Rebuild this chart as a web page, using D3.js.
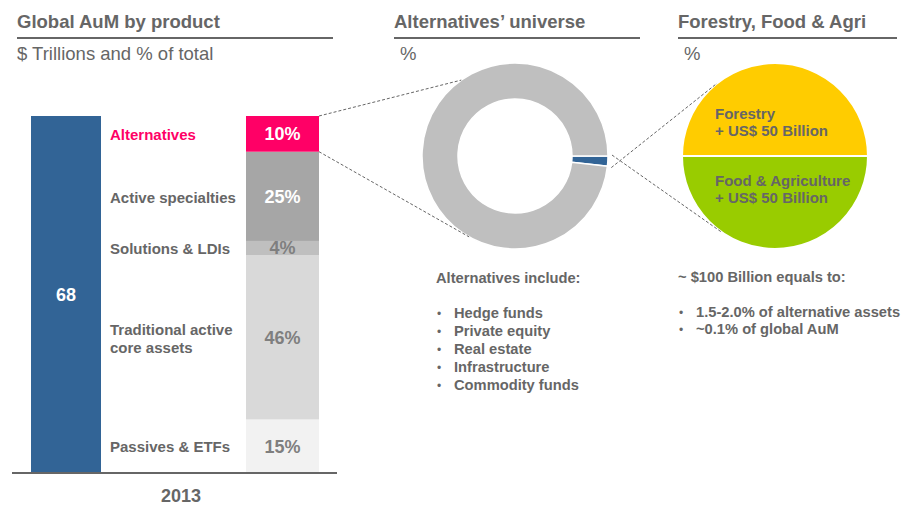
<!DOCTYPE html>
<html>
<head>
<meta charset="utf-8">
<script src="https://cdn.jsdelivr.net/npm/d3@7"></script>
<style>
  body { margin: 0; background: #fff; }
  svg text { font-family: "Liberation Sans", Arial, sans-serif; }
</style>
</head>
<body>
<svg id="chart" width="912" height="505"></svg>
<script>
// data, stacked from the bottom of the bar up
var productNames  = ["Passives & ETFs", "Traditional active\ncore assets", "Solutions & LDIs", "Active specialties", "Alternatives"];
var productShares = [15, 46, 4, 25, 10];
var productColors = ["#f2f2f2", "#d9d9d9", "#bfbfbf", "#a6a6a6", "#ff0066"];
var shareTextColors = ["#7f7f7f", "#7f7f7f", "#7f7f7f", "#ffffff", "#ffffff"];
var totalYear = "2013";
var totalAuM = 68;

var altNames  = ["Forestry, Food & Agri", "Other alternatives"];
var altShares = [1.75, 98.25];
var altColors = ["#326496", "#bfbfbf"];

var agriNames  = ["Forestry", "Food & Agriculture"];
var agriValues = [50, 50];
var agriColors = ["#ffcc00", "#99cc00"];

var altIncludes = ["Hedge funds", "Private equity", "Real estate", "Infrastructure", "Commodity funds"];
var equalsTo = ["1.5-2.0% of alternative assets", "~0.1% of global AuM"];

var grey = "#666666";
var svg = d3.select("#chart");

// section headers
var headers = [
    {title: "Global AuM by product", x: 17, x2: 333, sub: "$ Trillions and % of total"},
    {title: "Alternatives\u2019 universe", x: 394, x2: 640, sub: "%"},
    {title: "Forestry, Food & Agri", x: 678, x2: 897, sub: "%"}
];
headers.forEach(function(h, i) {
    svg.append("text").attr("x", h.x).attr("y", 28)
        .attr("font-size", 18.5).attr("font-weight", "bold").attr("fill", grey).text(h.title);
    svg.append("line").attr("x1", h.x).attr("x2", h.x2).attr("y1", 38).attr("y2", 38)
        .attr("stroke", grey).attr("stroke-width", 2);
    svg.append("text").attr("x", i == 0 ? h.x : h.x + 6).attr("y", 60)
        .attr("font-size", 18.5).attr("fill", grey).text(h.sub);
});

// left bars
var baseY = 473, topY = 116;
var yTotal = d3.scaleLinear().domain([0, totalAuM]).range([baseY, topY]);
var yShare = d3.scaleLinear().domain([0, d3.sum(productShares)]).range([baseY, topY]);

var totalX = 31, totalW = 70, shareX = 246, shareW = 73;

svg.append("rect").attr("x", totalX).attr("width", totalW)
    .attr("y", yTotal(totalAuM)).attr("height", yTotal(0) - yTotal(totalAuM))
    .attr("fill", "#326496");
svg.append("text").attr("x", totalX + totalW / 2).attr("y", yTotal(totalAuM / 2))
    .attr("dy", "0.35em").attr("text-anchor", "middle").attr("font-size", 18)
    .attr("font-weight", "bold").attr("fill", "#fff").text(totalAuM);

var stackRows = [];
var acc = 0;
productShares.forEach(function(v, i) {
    stackRows.push({name: productNames[i], value: v, y0: acc, y1: acc + v, i: i});
    acc += v;
});

var seg = svg.append("g").selectAll("g").data(stackRows).enter().append("g");
seg.append("rect")
    .attr("x", shareX).attr("width", shareW)
    .attr("y", function(d) { return yShare(d.y1); })
    .attr("height", function(d) { return yShare(d.y0) - yShare(d.y1); })
    .attr("fill", function(d) { return productColors[d.i]; });
seg.append("text")
    .attr("x", shareX + shareW / 2)
    .attr("y", function(d) { return yShare((d.y0 + d.y1) / 2); })
    .attr("dy", "0.35em").attr("text-anchor", "middle")
    .attr("font-size", 18).attr("font-weight", "bold")
    .attr("fill", function(d) { return shareTextColors[d.i]; })
    .text(function(d) { return d.value + "%"; });

seg.append("text")
    .attr("x", 110)
    .attr("y", function(d) { return yShare((d.y0 + d.y1) / 2) + 1; })
    .attr("font-size", 15).attr("font-weight", "bold")
    .attr("fill", function(d) { return d.name == "Alternatives" ? "#ff0066" : grey; })
    .each(function(d) {
        var lines = d.name.split("\n");
        var t = d3.select(this);
        lines.forEach(function(l, k) {
            t.append("tspan").attr("x", 110)
                .attr("dy", k == 0 ? (0.35 - (lines.length - 1) * 0.6) + "em" : "1.2em")
                .text(l);
        });
    });

svg.append("line").attr("x1", 12).attr("x2", 337).attr("y1", baseY).attr("y2", baseY)
    .attr("stroke", grey).attr("stroke-width", 2);
svg.append("text").attr("x", 181).attr("y", 502).attr("text-anchor", "middle")
    .attr("font-size", 18).attr("font-weight", "bold").attr("fill", grey).text(totalYear);

// donut
var donutC = [515, 156], donutR = 93, donutIn = 57;
var altPie = d3.pie().sort(null).startAngle(Math.PI / 2).endAngle(Math.PI / 2 + 2 * Math.PI);
var altArc = d3.arc().innerRadius(donutIn).outerRadius(donutR);
var altArcs = altPie(altShares);
svg.append("g").attr("transform", "translate(" + donutC + ")")
    .selectAll("path").data(altArcs).enter().append("path")
    .attr("d", altArc)
    .attr("fill", function(d, i) { return altColors[i]; })
    .attr("stroke", "#fff").attr("stroke-width", 1.5);

// pie
var pieC = [775, 156], pieR = 93;
var agriPie = d3.pie().sort(null).startAngle(-Math.PI / 2).endAngle(1.5 * Math.PI);
var agriArc = d3.arc().innerRadius(0).outerRadius(pieR);
svg.append("g").attr("transform", "translate(" + pieC + ")")
    .selectAll("path").data(agriPie(agriValues)).enter().append("path")
    .attr("d", agriArc)
    .attr("fill", function(d, i) { return agriColors[i]; })
    .attr("stroke", "#fff").attr("stroke-width", 2);

var agriLabelY = [119, 186];
agriNames.forEach(function(n, i) {
    var t = svg.append("text").attr("x", 715).attr("y", agriLabelY[i])
        .attr("font-size", 15).attr("font-weight", "bold").attr("fill", grey);
    t.append("tspan").attr("x", 715).text(n);
    t.append("tspan").attr("x", 715).attr("dy", 17).text("+ US$ " + agriValues[i] + " Billion");
});

// dashed connectors
function tangent(p, c, r, side) {
    var dx = p[0] - c[0], dy = p[1] - c[1];
    var d = Math.sqrt(dx * dx + dy * dy);
    var th = Math.atan2(dy, dx), a = Math.acos(r / d);
    var ang = th + side * a;
    return [c[0] + r * Math.cos(ang), c[1] + r * Math.sin(ang)];
}
function onCircle(c, r, ang) {
    return [c[0] + r * Math.sin(ang), c[1] - r * Math.cos(ang)];
}
var altRow = stackRows[stackRows.length - 1];
var p1 = [shareX + shareW, yShare(altRow.y1)], p2 = [shareX + shareW, yShare(altRow.y0)];
var blue = altArcs[0];
var q1 = onCircle(donutC, donutR + 4, blue.startAngle - 0.01);
var q2 = onCircle(donutC, donutR + 4, blue.endAngle + 0.01);
var connectors = [
    [p1, onCircle(donutC, donutR, -35.3 * Math.PI / 180)],
    [p2, tangent(p2, donutC, donutR, -1)],
    [q1, tangent(q1, pieC, pieR, -1)],
    [q2, tangent(q2, pieC, pieR, 1)]
];
svg.append("g").selectAll("line").data(connectors).enter().append("line")
    .attr("x1", function(d) { return d[0][0]; }).attr("y1", function(d) { return d[0][1]; })
    .attr("x2", function(d) { return d[1][0]; }).attr("y2", function(d) { return d[1][1]; })
    .attr("stroke", grey).attr("stroke-width", 1).attr("stroke-dasharray", "3,2");

// text blocks
function bulletBlock(x, y, head, items, step) {
    svg.append("text").attr("x", x).attr("y", y)
        .attr("font-size", 14.7).attr("font-weight", "bold").attr("fill", grey).text(head);
    items.forEach(function(it, i) {
        svg.append("text").attr("x", x + 1).attr("y", y + 35 + i * step)
            .attr("font-size", 12).attr("fill", grey).text("\u2022");
        svg.append("text").attr("x", x + 18).attr("y", y + 35 + i * step)
            .attr("font-size", 14.7).attr("font-weight", "bold").attr("fill", grey).text(it);
    });
}
bulletBlock(436, 283, "Alternatives include:", altIncludes, 18);
bulletBlock(678, 282, "~ $100 Billion equals to:", equalsTo, 17);
</script>
</body>
</html>
